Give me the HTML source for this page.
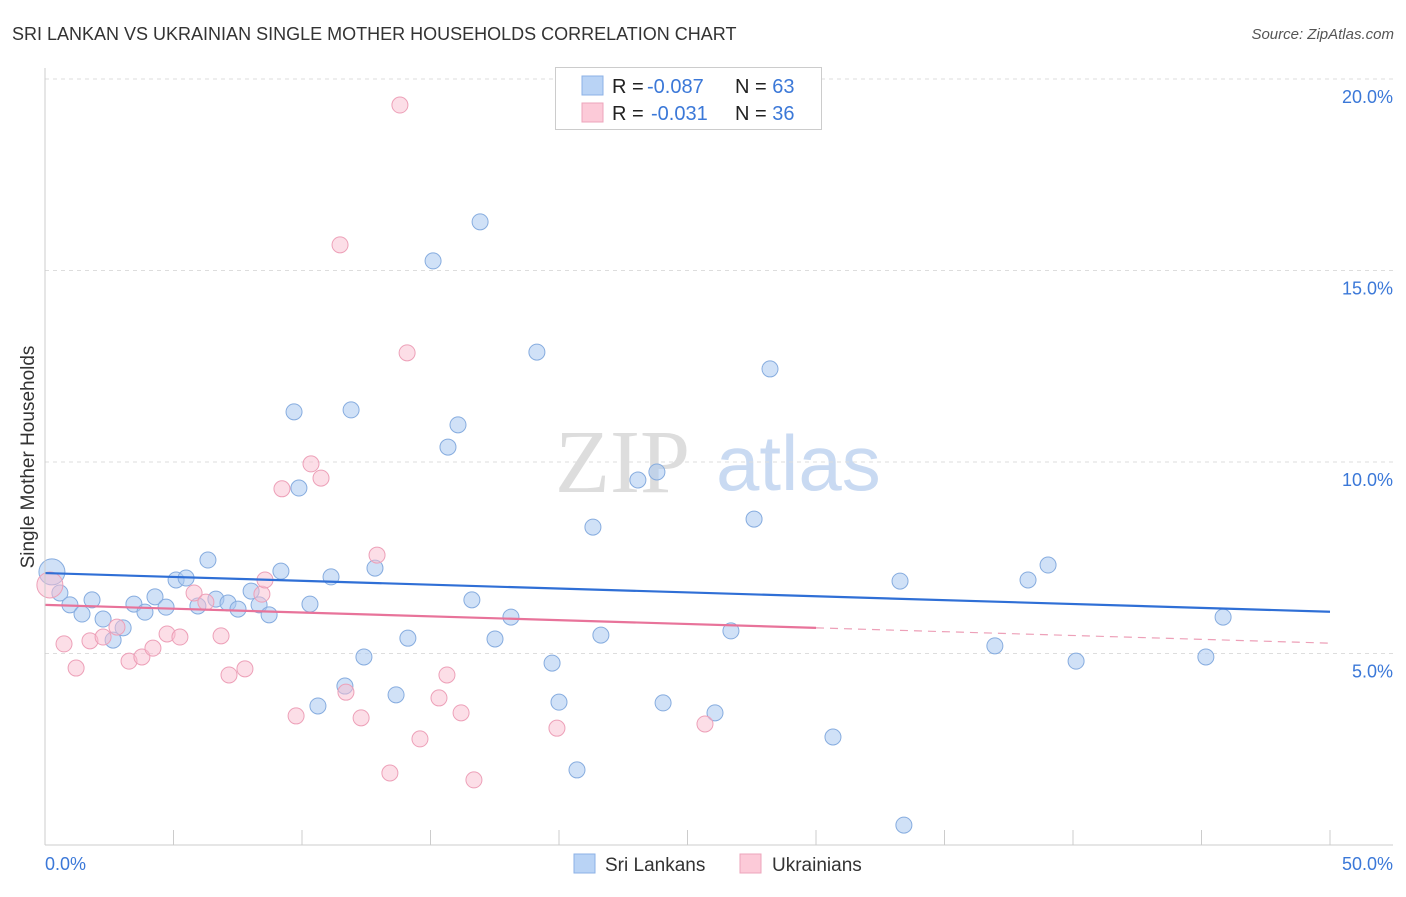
<!DOCTYPE html>
<html><head><meta charset="utf-8"><style>
body{margin:0;background:#fff;font-family:"Liberation Sans",sans-serif;}
</style></head><body>
<svg id="chart" width="1406" height="892" xmlns="http://www.w3.org/2000/svg">
<text x="12" y="40" font-size="18" fill="#333">SRI LANKAN VS UKRAINIAN SINGLE MOTHER HOUSEHOLDS CORRELATION CHART</text>
<text x="1394" y="39" font-size="15" fill="#555" font-style="italic" text-anchor="end">Source: ZipAtlas.com</text>
<text x="34" y="457" font-size="19" fill="#333" text-anchor="middle" transform="rotate(-90 34 457)">Single Mother Households</text>
<text x="555" y="492" font-size="90" fill="#ddd" font-family="Liberation Serif,serif">ZIP</text>
<text x="716" y="490" font-size="78" fill="#c9daf2">atlas</text>
<g id="grid"></g><g id="pts"></g><g id="lines"></g>
<line x1="45" y1="845" x2="1393" y2="845" stroke="#ccc"/>
<line x1="45" y1="68" x2="45" y2="845" stroke="#ccc"/>
<text x="45" y="870" font-size="18" fill="#3b78d8">0.0%</text>
<text x="1393" y="870" font-size="18" fill="#3b78d8" text-anchor="end">50.0%</text>
<g>
<rect x="555.5" y="67.5" width="266" height="62" fill="#fff" stroke="#ccc"/>
<rect x="582" y="76" width="21" height="19" fill="#b9d3f5" stroke="#8cb1e6"/>
<rect x="582" y="103" width="21" height="19" fill="#fccad8" stroke="#eda4bb"/>
<text x="612" y="93" font-size="20" fill="#222">R = <tspan fill="#3b78d8" x="647">-0.087</tspan><tspan x="735">N = </tspan><tspan fill="#3b78d8">63</tspan></text>
<text x="612" y="120" font-size="20" fill="#222">R = <tspan fill="#3b78d8" x="651">-0.031</tspan><tspan x="735">N = </tspan><tspan fill="#3b78d8">36</tspan></text>
</g>
<g>
<rect x="574" y="854" width="21" height="19" fill="#b9d3f5" stroke="#8cb1e6"/>
<text x="605" y="871" font-size="19" fill="#333">Sri Lankans</text>
<rect x="740" y="854" width="21" height="19" fill="#fccad8" stroke="#eda4bb"/>
<text x="772" y="871" font-size="19" fill="#333">Ukrainians</text>
</g>
</svg>
<script>
const yTicks=[5,10,15,20];
const yTickLabels=["5.0%","10.0%","15.0%","20.0%"];
const xTicks=[0,5,10,15,20,25,30,35,40,45,50];
const blueX=[0.27,0.58,0.97,1.44,1.83,2.26,2.65,3.04,3.46,3.89,4.28,4.71,5.10,5.49,5.95,6.34,6.65,7.12,7.51,8.02,8.33,8.72,9.18,9.69,9.88,10.31,10.62,11.13,11.67,11.91,12.41,12.84,13.66,14.12,15.10,15.68,16.07,16.61,16.93,17.51,18.13,19.14,19.73,20.00,20.70,21.32,21.63,23.07,23.81,24.05,26.07,26.69,27.59,28.21,30.66,33.27,33.42,36.96,38.25,39.03,40.12,45.17,45.84];
const blueY=[7.13,6.58,6.27,6.03,6.40,5.90,5.35,5.67,6.29,6.08,6.48,6.21,6.92,6.97,6.24,7.44,6.42,6.32,6.16,6.63,6.27,6.01,7.15,11.31,9.32,6.29,3.63,7.00,4.15,11.36,4.91,7.23,3.92,5.40,15.25,10.39,10.97,6.40,16.27,5.38,5.95,12.87,4.75,3.73,1.96,8.30,5.48,9.53,9.74,3.71,3.45,5.59,8.51,12.43,2.82,6.89,0.52,5.20,6.92,7.31,4.80,4.91,5.95];
const pinkX=[0.19,0.74,1.21,1.75,2.26,2.80,3.27,3.77,4.20,4.75,5.25,5.80,6.26,6.85,7.16,7.78,8.44,8.56,9.22,9.77,10.35,10.74,11.48,11.71,12.30,12.92,13.42,13.81,14.09,14.59,15.33,15.64,16.19,16.69,19.92,25.68];
const pinkY=[6.79,5.25,4.62,5.33,5.43,5.69,4.80,4.91,5.14,5.51,5.43,6.58,6.34,5.46,4.44,4.60,6.55,6.92,9.30,3.37,9.95,9.58,15.67,3.99,3.32,7.57,1.88,19.32,12.85,2.77,3.84,4.44,3.45,1.70,3.05,3.16];
const blueTrend=[7.10,6.09];
const pinkTrend=[6.27,5.27];
const pinkSolidEnd=30;
const NS="http://www.w3.org/2000/svg";
const xs=v=>45+v/50*1285;
const ys=v=>845-v*38.3;
function mk(tag,attrs,parent){const e=document.createElementNS(NS,tag);for(const k in attrs)e.setAttribute(k,attrs[k]);parent.appendChild(e);return e;}
const grid=document.getElementById('grid');
yTicks.forEach((t,i)=>{
 const l=mk('line',{x1:45,x2:1393,y1:ys(t),y2:ys(t),stroke:'#ddd','stroke-dasharray':'4,4'},grid);
 
 
 const tx=mk('text',{x:1393,y:ys(t)+24,'font-size':18,fill:'#3b78d8','text-anchor':'end'},grid);
 tx.textContent=yTickLabels[i];
 
 
});
xTicks.forEach(t=>{
 const l=mk('line',{x1:xs(t),x2:xs(t),y1:830,y2:845,stroke:'#ccc'},grid);
 
 
});
const pts=document.getElementById('pts');
blueX.forEach((x,i)=>{
 const c=mk('circle',{cx:xs(x),cy:ys(blueY[i]),r:i==0?13:8,fill:'rgba(170,200,240,0.55)',stroke:'#86acdf','stroke-width':1},pts);
 
 
});
pinkX.forEach((x,i)=>{
 const c=mk('circle',{cx:xs(x),cy:ys(pinkY[i]),r:i==0?13:8,fill:'rgba(250,190,208,0.5)',stroke:'#eda0b8','stroke-width':1},pts);
 
 
});
const lines=document.getElementById('lines');
const bl=mk('line',{x1:xs(0),y1:ys(blueTrend[0]),x2:xs(50),y2:ys(blueTrend[1]),stroke:'#2f6fd6','stroke-width':2.2},lines);


const pAt=v=>pinkTrend[0]+(pinkTrend[1]-pinkTrend[0])*v/50;
const pl=mk('line',{x1:xs(0),y1:ys(pinkTrend[0]),x2:xs(pinkSolidEnd),y2:ys(pAt(pinkSolidEnd)),stroke:'#e8739a','stroke-width':2.2},lines);


const pd=mk('line',{x1:xs(pinkSolidEnd),y1:ys(pAt(pinkSolidEnd)),x2:xs(50),y2:ys(pinkTrend[1]),stroke:'#eda0b8','stroke-width':1.2,'stroke-dasharray':'8,6'},lines);


</script>
</body></html>
